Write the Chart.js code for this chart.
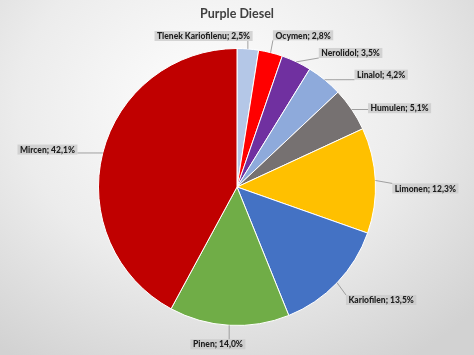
<!DOCTYPE html>
<html>
<head>
<meta charset="utf-8">
<script src="https://cdn.jsdelivr.net/npm/chart.js@4"></script>
<style>
  html, body { margin: 0; padding: 0; }
  body {
    width: 474px; height: 355px;
    background: radial-gradient(ellipse 75% 85% at 45% 30%, #ffffff 0%, #ececec 55%, #d2d2d2 100%);
  }
  #wrap { width: 474px; height: 355px; }
</style>
</head>
<body>
<div id="wrap"><canvas id="myChart"></canvas></div>
<script>
// data
let names = ['Tlenek Kariofilenu', 'Ocymen', 'Nerolidol', 'Linalol', 'Humulen', 'Limonen', 'Kariofilen', 'Pinen', 'Mircen'];
let shares = [2.5, 2.8, 3.5, 4.2, 5.1, 12.3, 13.5, 14.0, 42.1];
let sliceColors = ['#b4c7e7', '#ff0000', '#7030a0', '#8eaadb', '#767171', '#ffc000', '#4472c4', '#70ad47', '#c00000'];
// small nudges so the labels sit where Excel put them
let labelShift = [[-46, 9], [-3, 4], [13, 11], [16, 12], [-2, 11], [-5, 9], [-7, 2], [-10, -3], [-4, 2]];

let labelPlugin = {
  id: 'pieLabels',
  afterDatasetsDraw(chart) {
    let ctx = chart.ctx;
    let meta = chart.getDatasetMeta(0);
    ctx.save();
    ctx.font = '900 8.5px Lato, sans-serif';
    ctx.textBaseline = 'middle';
    meta.data.forEach(function (arc, i) {
      let p = arc.getProps(['x', 'y', 'startAngle', 'endAngle', 'outerRadius'], true);
      let mid = (p.startAngle + p.endAngle) / 2;
      let cos = Math.cos(mid);
      let sin = Math.sin(mid);
      let ex = p.x + cos * p.outerRadius;
      let ey = p.y + sin * p.outerRadius;
      let lx = p.x + cos * (p.outerRadius + 22) + labelShift[i][0];
      let ly = p.y + sin * (p.outerRadius + 22) + labelShift[i][1];
      let text = names[i] + '; ' + shares[i].toFixed(1).replace('.', ',') + '%';
      let w = ctx.measureText(text).width + 5;
      let h = 10;
      let bx;
      if (Math.abs(cos) < 0.15) {
        bx = lx - w / 2;
      } else if (cos > 0) {
        bx = lx;
      } else {
        bx = lx - w;
      }
      let by = ly - h / 2;
      // leader line
      ctx.strokeStyle = '#8c8c8c';
      ctx.lineWidth = 0.8;
      ctx.beginPath();
      ctx.moveTo(ex, ey);
      let tx = Math.min(Math.max(ex, bx), bx + w);
      let ty = Math.min(Math.max(ey, by), by + h);
      ctx.lineTo(tx, ty);
      ctx.stroke();
      // box
      ctx.fillStyle = 'rgba(200,200,200,0.75)';
      ctx.fillRect(bx, by, w, h);
      ctx.fillStyle = '#1e1e1e';
      ctx.textAlign = 'left';
      ctx.fillText(text, bx + 2.5, ly + 0.5);
    });
    ctx.restore();
  }
};

let ctx = document.getElementById('myChart').getContext('2d');
let myChart = new Chart(ctx, {
  type: 'pie',
  data: {
    labels: names,
    datasets: [{
      data: shares,
      backgroundColor: sliceColors,
      borderColor: '#ffffff',
      borderWidth: 1
    }]
  },
  options: {
    responsive: true,
    maintainAspectRatio: false,
    animation: false,
    layout: { padding: { top: 0, bottom: 29, left: 0, right: 0 } },
    plugins: {
      legend: { display: false },
      tooltip: { enabled: false },
      title: {
        display: true,
        text: 'Purple Diesel',
        color: '#404040',
        font: { family: 'Lato, sans-serif', size: 12.5, weight: 'bold' },
        padding: { top: 6, bottom: 27 }
      }
    }
  },
  plugins: [labelPlugin]
});
</script>
</body>
</html>
